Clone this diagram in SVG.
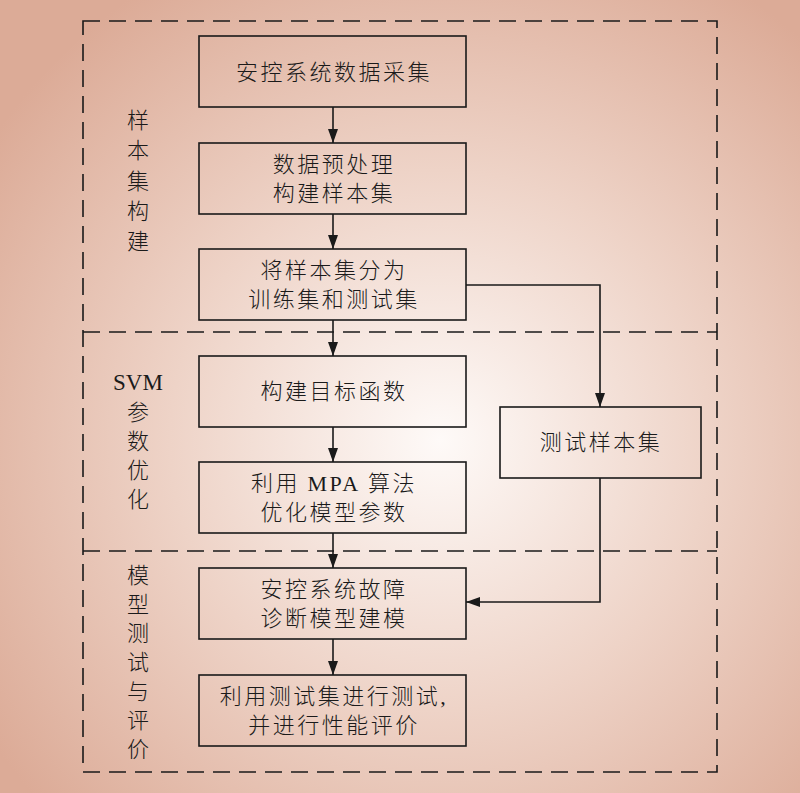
<svg xmlns="http://www.w3.org/2000/svg" width="800" height="793" viewBox="0 0 800 793">
<defs>
<radialGradient id="bg" gradientUnits="userSpaceOnUse" cx="440" cy="440" r="540">
<stop offset="0" stop-color="#fefaf8"/>
<stop offset="0.5" stop-color="#eed3c7"/>
<stop offset="1" stop-color="#dcab97"/>
</radialGradient>
<marker id="arr" markerUnits="userSpaceOnUse" markerWidth="15" markerHeight="12" refX="14" refY="6" orient="auto">
<path d="M0,1 L14,6 L0,11 Z" fill="#1a1a1a"/>
</marker>
<style>
.box{fill:none;stroke:#1a1a1a;stroke-width:1.6}
.dash{fill:none;stroke:#1a1a1a;stroke-width:1.6;stroke-dasharray:17 9}
.con{fill:none;stroke:#1a1a1a;stroke-width:1.6}
.t{font-family:"Noto Sans CJK SC","Noto Sans CJK JP",sans-serif;font-size:22px;font-weight:300;fill:#1a1a1a;text-anchor:middle;letter-spacing:2.5px}
.lab{font-family:"Noto Sans CJK SC","Noto Sans CJK JP",sans-serif;font-size:22px;font-weight:300;fill:#1a1a1a;text-anchor:middle}
.lat{font-family:"Liberation Serif",serif;font-weight:400}
</style>
</defs>
<rect x="0" y="0" width="800" height="793" fill="url(#bg)"/>
<g id="frames">
<rect class="dash" x="83" y="21" width="634" height="751"/>
<line class="dash" x1="83" y1="332" x2="717" y2="332"/>
<line class="dash" x1="83" y1="551" x2="717" y2="551"/>
</g>
<g id="stage-labels">
<text class="lab" x="138" y="128"><tspan x="138" y="128">样</tspan><tspan x="138" y="158">本</tspan><tspan x="138" y="189">集</tspan><tspan x="138" y="219">构</tspan><tspan x="138" y="249">建</tspan></text>
<text class="lab" x="138" y="390"><tspan class="lat" x="138" y="390" style="font-size:23px">SVM</tspan><tspan x="138" y="420">参</tspan><tspan x="138" y="449">数</tspan><tspan x="138" y="478">优</tspan><tspan x="138" y="507">化</tspan></text>
<text class="lab" x="138" y="583"><tspan x="138" y="583">模</tspan><tspan x="138" y="612">型</tspan><tspan x="138" y="641">测</tspan><tspan x="138" y="670">试</tspan><tspan x="138" y="699">与</tspan><tspan x="138" y="728">评</tspan><tspan x="138" y="757">价</tspan></text>
</g>
<g id="n1">
<rect class="box" x="199" y="36" width="267" height="71"/>
<text class="t" x="334" y="80">安控系统数据采集</text>
</g>
<g id="n2">
<rect class="box" x="199" y="143" width="267" height="71"/>
<text class="t" x="334" y="171.5"><tspan x="334" y="171.5">数据预处理</tspan><tspan x="334" y="200.5">构建样本集</tspan></text>
</g>
<g id="n3">
<rect class="box" x="199" y="249" width="267" height="71"/>
<text class="t" x="334" y="277.5"><tspan x="334" y="277.5">将样本集分为</tspan><tspan x="334" y="306.5">训练集和测试集</tspan></text>
</g>
<g id="n4">
<rect class="box" x="199" y="356" width="267" height="71"/>
<text class="t" x="334" y="399">构建目标函数</text>
</g>
<g id="n5">
<rect class="box" x="199" y="462" width="267" height="71"/>
<text class="t" x="334" y="490.5"><tspan x="334" y="490.5">利用 <tspan class="lat">MPA</tspan> 算法</tspan><tspan x="334" y="519.5">优化模型参数</tspan></text>
</g>
<g id="n6">
<rect class="box" x="199" y="568" width="267" height="71"/>
<text class="t" x="334" y="596.5"><tspan x="334" y="596.5">安控系统故障</tspan><tspan x="334" y="625.5">诊断模型建模</tspan></text>
</g>
<g id="n7">
<rect class="box" x="199" y="675" width="267" height="71"/>
<text class="t" x="334" y="703.5"><tspan x="334" y="703.5">利用测试集进行测试<tspan class="lat">,</tspan></tspan><tspan x="334" y="732.5">并进行性能评价</tspan></text>
</g>
<g id="n8">
<rect class="box" x="500" y="407" width="201" height="71"/>
<text class="t" x="601" y="450">测试样本集</text>
</g>
<g id="connectors">
<line class="con" x1="333" y1="107" x2="333" y2="143" marker-end="url(#arr)"/>
<line class="con" x1="333" y1="214" x2="333" y2="249" marker-end="url(#arr)"/>
<line class="con" x1="333" y1="320" x2="333" y2="356" marker-end="url(#arr)"/>
<line class="con" x1="333" y1="427" x2="333" y2="462" marker-end="url(#arr)"/>
<line class="con" x1="333" y1="533" x2="333" y2="568" marker-end="url(#arr)"/>
<line class="con" x1="333" y1="639" x2="333" y2="675" marker-end="url(#arr)"/>
<polyline class="con" points="466,285 600,285 600,407" marker-end="url(#arr)"/>
<polyline class="con" points="600,478 600,602 466,602" marker-end="url(#arr)"/>
</g>
</svg>
